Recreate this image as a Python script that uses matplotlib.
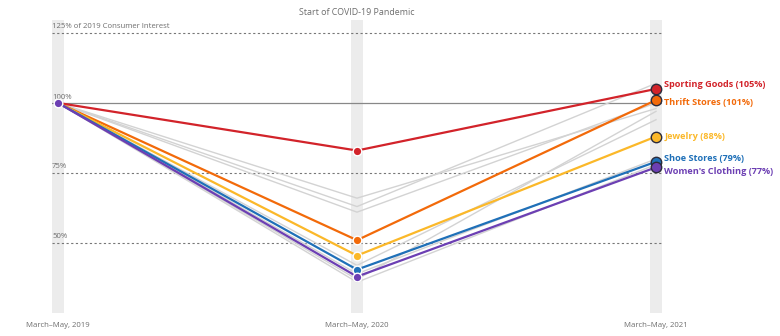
import matplotlib
matplotlib.use("Agg")
import matplotlib.pyplot as plt

periods = ["March–May, 2019", "March–May, 2020", "March–May, 2021"]

# highlighted series (% of 2019 consumer interest)
names = ["Sporting Goods", "Thrift Stores", "Jewelry", "Shoe Stores", "Women's Clothing"]
sporting = [100, 83, 105]
thrift = [100, 51, 101]
jewelry = [100, 45.5, 88]
shoes = [100, 40.5, 79]
womens = [100, 38, 77]
highlight_values = [sporting, thrift, jewelry, shoes, womens]

# background (gray) series
gray_2020 = [66, 63, 61, 42, 37, 39, 36]
gray_2021 = [98, 107, 100, 94, 97, 80, 78]

gridlines = [50, 75, 125]
gridlabels = ["50%", "75%", "125% of 2019 Consumer Interest"]

# styles
colors = ["#d2232a", "#f26a0a", "#fbb829", "#1f70b8", "#6c3fb3"]
label_dy = [3, -2, 0, 2, -3]  # label nudges (points)

plt.rcParams['font.family'] = ['Open Sans', 'DejaVu Sans']
fig = plt.figure(figsize=(7.8, 3.36), dpi=100)
ax = fig.add_axes([52 / 780, 23 / 336, 610 / 780, 293 / 336])
ax.set_xlim(-0.02, 2.02)
ax.set_ylim(25, 129.6)
for s in ax.spines.values():
    s.set_visible(False)
ax.set_xticks([])
ax.set_yticks([])

xs = [0, 1, 2]
for x in xs:
    ax.axvspan(x - 0.02, x + 0.02, color="#ececec", zorder=0, lw=0)
    ax.text(x, -0.03, periods[x], transform=ax.get_xaxis_transform(),
            ha="center", va="top", fontsize=5.6, color="#6e6e6e")

for g, lab in zip(gridlines, gridlabels):
    ax.axhline(g, color="#777777", lw=0.8, ls=(0, (2, 2.2)), zorder=1)
    ax.text(-0.02, g + 1.2, lab, ha="left", va="bottom", fontsize=5.6, color="#6e6e6e")
ax.axhline(100, color="#888888", lw=0.9, zorder=1)
ax.text(-0.02, 100.6, "100%", ha="left", va="bottom", fontsize=5.6, color="#6e6e6e")

ax.text(1, 1.027, "Start of COVID-19 Pandemic", transform=ax.get_xaxis_transform(),
        ha="center", va="center", fontsize=6.4, color="#6e6e6e")

for a, b in zip(gray_2020, gray_2021):
    ax.plot(xs, [100, a, b], color="#d3d3d3", lw=1.0, zorder=2)

for i in range(len(names)):
    vals = highlight_values[i]
    c = colors[i]
    ax.plot(xs, vals, color=c, lw=1.6, zorder=3 + i * 0.1)
    ax.plot(xs[1], vals[1], "o", ms=6.2, color=c, mec="white", mew=1.0, zorder=4)
    ax.plot(xs[2], vals[2], "o", ms=7.5, color=c, mec="#2b2b3b", mew=1.0, zorder=5)
    ax.annotate(f"{names[i]} ({vals[2]:.0f}%)", (xs[2], vals[2]), xytext=(6, label_dy[i]),
                textcoords="offset points", ha="left", va="center",
                fontsize=6.6, fontweight="bold", color=c, annotation_clip=False)

ax.plot(0, 100, "o", ms=6.2, color=colors[-1], mec="white", mew=1.0, zorder=6)

fig.savefig("out.png", dpi=100, facecolor="white")
